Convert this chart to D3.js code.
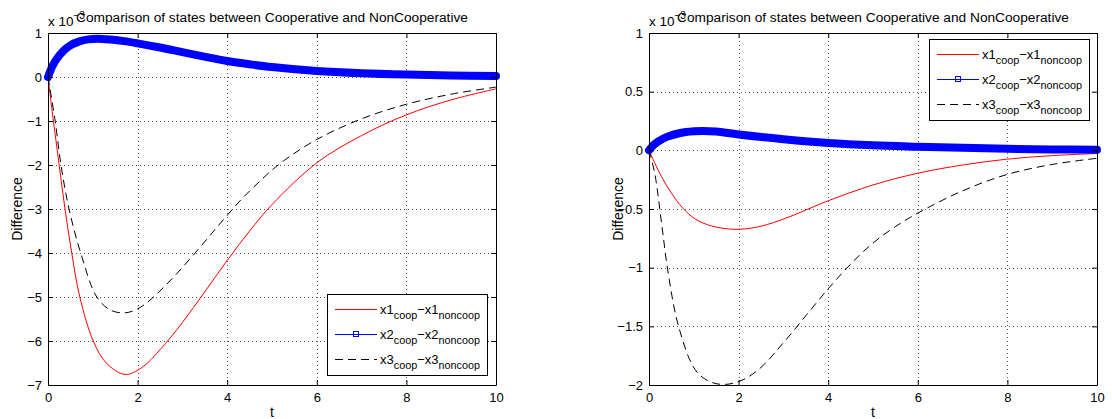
<!DOCTYPE html>
<html>
<head>
<meta charset="utf-8">
<script src="https://cdn.jsdelivr.net/npm/d3@7"></script>
<style>
  body { margin: 0; background: #fff; }
  text { font-family: "Liberation Sans", Arial, sans-serif; fill: #000; }
</style>
</head>
<body>
<div id="wrapper"></div>
<script>
// ---- data (values are x 10^-3) ----
const xTicks = [0, 2, 4, 6, 8, 10]
const leftYTicks = [-7, -6, -5, -4, -3, -2, -1, 0, 1]
const rightYTicks = [-2, -1.5, -1, -0.5, 0, 0.5, 1]

// left panel
const leftRedT = [0, 0.12, 0.25, 0.38, 0.53, 0.71, 1.01, 1.3, 1.72, 2.1, 2.5, 3.0, 3.5, 4.0, 4.5, 5.0, 6.0, 7.0, 8.0, 9.0, 10]
const leftRed = [0, -1.0, -2.0, -3.0, -4.0, -5.0, -6.0, -6.5, -6.76, -6.6, -6.2, -5.58, -4.88, -4.17, -3.5, -2.9, -1.95, -1.33, -0.86, -0.52, -0.27]
const leftBlueT = [0, 0.1, 0.2, 0.35, 0.5, 0.7, 0.9, 1.1, 1.4, 1.7, 2.0, 2.5, 3.0, 3.6, 4.0, 4.5, 5, 6, 7, 8, 9, 10]
const leftBlue = [0, 0.25, 0.42, 0.6, 0.72, 0.81, 0.855, 0.87, 0.85, 0.815, 0.765, 0.67, 0.565, 0.44, 0.365, 0.29, 0.225, 0.135, 0.085, 0.055, 0.035, 0.022]
const leftBlackT = [0, 0.16, 0.29, 0.47, 0.73, 1.09, 1.4, 1.72, 2.0, 2.3, 2.8, 3.3, 3.8, 4.3, 4.8, 5.2, 6, 7, 8, 9, 10]
const leftBlack = [0, -1.0, -2.0, -3.0, -4.0, -5.0, -5.3, -5.36, -5.27, -5.05, -4.55, -3.98, -3.38, -2.8, -2.3, -1.95, -1.42, -0.95, -0.62, -0.39, -0.23]

// right panel
const rightRedT = [0, 0.13, 0.28, 0.5, 0.75, 1.03, 1.4, 1.9, 2.4, 2.9, 3.4, 4.0, 5.0, 6.0, 7.0, 8.0, 9.0, 10]
const rightRed = [0, -0.11, -0.225, -0.365, -0.49, -0.585, -0.645, -0.673, -0.655, -0.6, -0.525, -0.43, -0.295, -0.195, -0.125, -0.075, -0.045, -0.027]
const rightBlueT = [0, 0.1, 0.2, 0.4, 0.7, 1.0, 1.2, 1.5, 2, 3, 4, 5, 6, 7, 8, 9, 10]
const rightBlue = [0, 0.045, 0.075, 0.115, 0.148, 0.162, 0.165, 0.16, 0.135, 0.095, 0.063, 0.043, 0.031, 0.021, 0.013, 0.008, 0.005]
const rightBlackT = [0, 0.13, 0.28, 0.43, 0.66, 1.03, 1.35, 1.7, 2.1, 2.5, 3.0, 3.5, 4.0, 4.5, 5.0, 5.5, 6.0, 7.0, 8.0, 9.0, 10]
const rightBlack = [0, -0.2, -0.62, -1.05, -1.5, -1.87, -1.97, -1.995, -1.955, -1.85, -1.64, -1.41, -1.18, -0.97, -0.79, -0.65, -0.535, -0.345, -0.205, -0.12, -0.068]

const titleText = "Comparison of states between Cooperative and NonCooperative"

// ---- drawing ----
const width = 1112
const height = 419

const svg = d3.select("#wrapper")
  .append("svg")
    .attr("width", width)
    .attr("height", height)

const toPoints = (ts, vs) => ts.map((t, i) => [t, vs[i]])

drawPanel({
  left: 48, right: 496, top: 33, bottom: 385,
  yDomain: [-7, 1], yTicks: leftYTicks,
  series: [
    { pts: toPoints(leftRedT, leftRed), color: "#ff0000", width: 1 },
    { pts: toPoints(leftBlackT, leftBlack), color: "#000", width: 1, dash: "8,5" },
    { pts: toPoints(leftBlueT, leftBlue), color: "#0000ff", width: 8 },
  ],
  legend: { x: 327, y: 294 },
})

drawPanel({
  left: 649, right: 1097, top: 33, bottom: 385,
  yDomain: [-2, 1], yTicks: rightYTicks,
  series: [
    { pts: toPoints(rightRedT, rightRed), color: "#ff0000", width: 1 },
    { pts: toPoints(rightBlackT, rightBlack), color: "#000", width: 1, dash: "8,5" },
    { pts: toPoints(rightBlueT, rightBlue), color: "#0000ff", width: 8 },
  ],
  legend: { x: 929, y: 39 },
})

function drawPanel(cfg) {
  const xScale = d3.scaleLinear().domain([0, 10]).range([cfg.left, cfg.right])
  const yScale = d3.scaleLinear().domain(cfg.yDomain).range([cfg.bottom, cfg.top])
  const g = svg.append("g")
  const tickLen = 5

  // grid (dotted)
  const grid = g.append("g")
    .attr("stroke", "#555")
    .attr("stroke-width", 1)
    .attr("stroke-dasharray", "1,3")
  grid.selectAll(".gx")
    .data(xTicks.filter(d => d > 0 && d < 10))
    .join("line")
      .attr("x1", d => Math.round(xScale(d)) + 0.5)
      .attr("x2", d => Math.round(xScale(d)) + 0.5)
      .attr("y1", cfg.top)
      .attr("y2", cfg.bottom)
  grid.selectAll(".gy")
    .data(cfg.yTicks.filter(d => d > cfg.yDomain[0] && d < cfg.yDomain[1]))
    .join("line")
      .attr("x1", cfg.left)
      .attr("x2", cfg.right)
      .attr("y1", d => Math.round(yScale(d)) + 0.5)
      .attr("y2", d => Math.round(yScale(d)) + 0.5)

  // series
  const line = d3.line()
    .x(d => xScale(d[0]))
    .y(d => yScale(d[1]))
    .curve(d3.curveCatmullRom.alpha(0.5))

  cfg.series.forEach(s => {
    g.append("path")
      .attr("d", line(s.pts))
      .attr("fill", "none")
      .attr("stroke", s.color)
      .attr("stroke-width", s.width)
      .attr("stroke-linejoin", "round")
      .attr("stroke-linecap", s.width > 2 ? "round" : "butt")
      .attr("stroke-dasharray", s.dash || null)
  })

  // axes: bottom/left with labels, top/right ticks only, all ticks inward
  const fmt = d => d3.format("")(d).replace("-", "\u2212")

  const xBottom = g.append("g")
    .attr("transform", `translate(0, ${cfg.bottom})`)
    .call(d3.axisBottom(xScale).tickValues(xTicks).tickSizeInner(-tickLen).tickSizeOuter(0))
  const xTop = g.append("g")
    .attr("transform", `translate(0, ${cfg.top})`)
    .call(d3.axisTop(xScale).tickValues(xTicks).tickSizeInner(-tickLen).tickSizeOuter(0).tickFormat(""))
  const yLeft = g.append("g")
    .attr("transform", `translate(${cfg.left}, 0)`)
    .call(d3.axisLeft(yScale).tickValues(cfg.yTicks).tickSizeInner(-tickLen).tickSizeOuter(0).tickPadding(6).tickFormat(fmt))
  const yRight = g.append("g")
    .attr("transform", `translate(${cfg.right}, 0)`)
    .call(d3.axisRight(yScale).tickValues(cfg.yTicks).tickSizeInner(-tickLen).tickSizeOuter(0).tickFormat(""))

  ;[xBottom, xTop, yLeft, yRight].forEach(a => {
    a.select(".domain").attr("stroke", "#000")
    a.selectAll(".tick line").attr("stroke", "#000")
    a.selectAll(".tick text")
      .attr("font-size", 13)
      .attr("font-family", "Liberation Sans, Arial, sans-serif")
  })
  xBottom.selectAll(".tick text").attr("y", 8)

  // labels
  g.append("text")
    .attr("x", (cfg.left + cfg.right) / 2)
    .attr("y", 417)
    .attr("text-anchor", "middle")
    .attr("font-size", 14)
    .text("t")

  g.append("text")
    .attr("transform", `translate(${cfg.left - 26}, ${(cfg.top + cfg.bottom) / 2}) rotate(-90)`)
    .attr("text-anchor", "middle")
    .attr("font-size", 14)
    .text("Difference")

  // exponent label
  const expo = g.append("text")
    .attr("x", cfg.left)
    .attr("y", 26)
    .attr("font-size", 13.5)
  expo.append("tspan").text("x 10")
  expo.append("tspan").attr("font-size", 10).attr("dy", -7).text("\u22123")

  // title
  g.append("text")
    .attr("x", (cfg.left + cfg.right) / 2)
    .attr("y", 22)
    .attr("text-anchor", "middle")
    .attr("font-size", 13.7)
    .text(titleText)

  // legend
  const legendItems = [
    { n: "1", color: "#ff0000" },
    { n: "2", color: "#0000ff", marker: true },
    { n: "3", color: "#000", dash: "8,5" },
  ]
  const lg = g.append("g").attr("transform", `translate(${cfg.legend.x}, ${cfg.legend.y})`)
  lg.append("rect")
    .attr("x", 0.5).attr("y", 0.5)
    .attr("width", 160).attr("height", 81)
    .attr("fill", "#fff")
    .attr("stroke", "#000")
  legendItems.forEach((it, i) => {
    const yy = 15.5 + i * 25
    lg.append("line")
      .attr("x1", 8).attr("x2", 50)
      .attr("y1", yy).attr("y2", yy)
      .attr("stroke", it.color)
      .attr("stroke-dasharray", it.dash || null)
    if (it.marker) {
      lg.append("rect")
        .attr("x", 26.5).attr("y", yy - 3)
        .attr("width", 5).attr("height", 5)
        .attr("fill", "none")
        .attr("stroke", it.color)
    }
    const tx = lg.append("text")
      .attr("x", 53)
      .attr("y", yy + 4)
      .attr("font-size", 13)
    tx.append("tspan").text("x" + it.n)
    tx.append("tspan").attr("font-size", 10.8).attr("dy", 5).text("coop")
    tx.append("tspan").attr("dy", -5).text("\u2212x" + it.n)
    tx.append("tspan").attr("font-size", 10.8).attr("dy", 5).text("noncoop")
  })
}
</script>
</body>
</html>
